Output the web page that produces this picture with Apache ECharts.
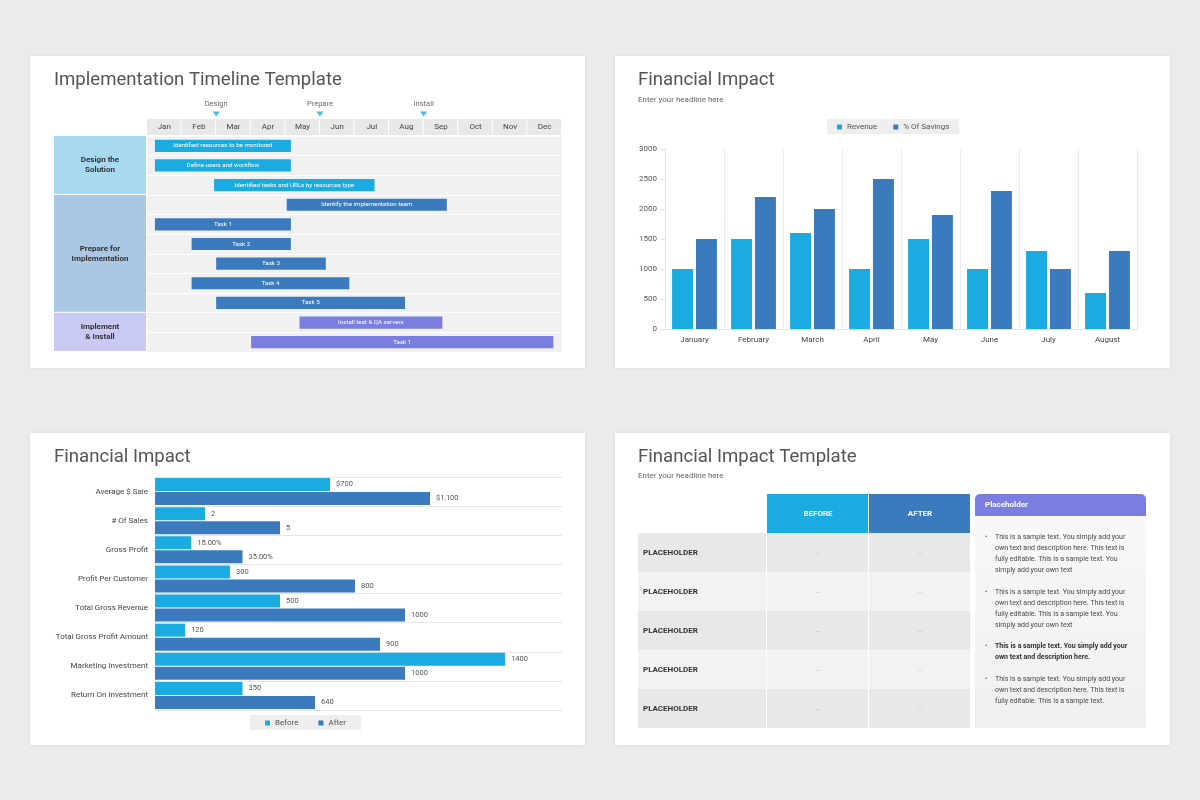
<!DOCTYPE html>
<html>
<head>
<meta charset="utf-8">
<title>Timeline and Financial Impact</title>
<script src="https://cdn.jsdelivr.net/npm/echarts@6/dist/echarts.min.js"></script>
<style>
html, body { margin: 0; padding: 0; background: #ebebeb; }
#main { width: 1200px; height: 800px; }
</style>
</head>
<body>
<div id="main"></div>
<script>
// ---- timeline (top left) ----
var months = ['Jan', 'Feb', 'Mar', 'Apr', 'May', 'Jun', 'Jul', 'Aug', 'Sep', 'Oct', 'Nov', 'Dec'];
var milestones = ['Design', 'Prepare', 'Install'];
var milestoneAt = [2, 5, 8];
var taskNames = [
	'Identified resources to be monitored',
	'Define users and workflow',
	'Identified tasks and URLs by resources type',
	'Identify the implementation team',
	'Task 1', 'Task 2', 'Task 3', 'Task 4', 'Task 5',
	'Install test & QA servers',
	'Task 1'
];
var taskStart = [0.23, 0.23, 1.94, 4.04, 0.23, 1.29, 2.0, 1.29, 2.0, 4.41, 3.01];
var taskEnd = [4.16, 4.16, 6.58, 8.67, 4.16, 4.16, 5.17, 5.85, 7.46, 8.54, 11.75];
var taskGroup = [0, 0, 0, 1, 1, 1, 1, 1, 1, 2, 2];
var groupNames = ['Design the\nSolution', 'Prepare for\nImplementation', 'Implement\n& Install'];
var groupFirst = [0, 3, 9];
var groupLast = [2, 8, 10];

// ---- financial impact (top right) ----
var finMonths = ['January', 'February', 'March', 'April', 'May', 'June', 'July', 'August'];
var revenue = [1000, 1500, 1600, 1000, 1500, 1000, 1300, 600];
var savings = [1500, 2200, 2000, 2500, 1900, 2300, 1000, 1300];

// ---- financial impact (bottom left) ----
var metrics = ['Average $ Sale', '# Of Sales', 'Gross Profit', 'Profit Per Customer',
	'Total Gross Revenue', 'Total Gross Profit Amount', 'Marketing Investment', 'Return On Investment'];
var beforeVals = [700, 200, 145, 300, 500, 120, 1400, 350];
var afterVals = [1100, 500, 350, 800, 1000, 900, 1000, 640];
var beforeLabels = ['$700', '2', '15.00%', '300', '500', '120', '1400', '350'];
var afterLabels = ['$1,100', '5', '35.00%', '800', '1000', '900', '1000', '640'];

// ---- table (bottom right) ----
var tableRows = ['PLACEHOLDER', 'PLACEHOLDER', 'PLACEHOLDER', 'PLACEHOLDER', 'PLACEHOLDER'];
var tableCols = ['BEFORE', 'AFTER'];
var tableCells = [['...', '...'], ['...', '...'], ['...', '...'], ['...', '...'], ['...', '...']];
var noteTitle = 'Placeholder';
var notes = [
	'This is a sample text. You simply add your\nown text and description here. This text is\nfully editable. This is a sample text. You\nsimply add your own text',
	'This is a sample text. You simply add your\nown text and description here. This text is\nfully editable. This is a sample text. You\nsimply add your own text',
	'This is a sample text. You simply add your\nown text and description here.',
	'This is a sample text. You simply add your\nown text and description here. This text is\nfully editable. This is a sample text.'
];
var noteBold = [false, false, true, false];

var C_LIGHT = '#1aabe0';
var C_DARK = '#3b7bbd';
var C_PURPLE = '#7a7ee0';
var groupColors = [C_LIGHT, C_DARK, C_PURPLE];
var groupBg = ['#a7d9f1', '#abc7e4', '#c9c9f5'];
var FONT = 'Roboto';

var myChart = echarts.init(document.getElementById('main'));

function render_task(params, api) { // 간트 막대
	var row = api.value(0);
	var s = api.coord([api.value(1), row]);
	var e = api.coord([api.value(2), row]);
	var h = api.size([0, 1])[1] * 0.62;
	var i = params.dataIndex;
	return {
		type: 'group',
		children: [
			{ type: 'rect', shape: { x: s[0], y: s[1] - h / 2, width: e[0] - s[0], height: h }, style: { fill: groupColors[taskGroup[i]] } },
			{ type: 'text', style: { text: taskNames[i], x: (s[0] + e[0]) / 2, y: s[1], align: 'center', verticalAlign: 'middle', fill: '#fff', fontSize: 6.2, fontFamily: FONT } }
		]
	};
}

function render_month(params, api) { // 상단 월 헤더
	var a = api.coord([api.value(0), 0]);
	var b = api.coord([api.value(1), 0]);
	var h = api.size([0, 1])[1];
	return {
		type: 'group',
		children: [
			{ type: 'rect', shape: { x: a[0], y: a[1] - h / 2, width: b[0] - a[0] - 1, height: h }, style: { fill: '#e8e8e8' } },
			{ type: 'text', style: { text: months[params.dataIndex], x: (a[0] + b[0]) / 2, y: a[1], align: 'center', verticalAlign: 'middle', fill: '#444', fontSize: 8, fontFamily: FONT } }
		]
	};
}

function render_group(params, api) { // 좌측 그룹 블록
	var a = api.coord([0, api.value(0)]);
	var b = api.coord([1, api.value(1)]);
	var h = api.size([0, 1])[1];
	var top = a[1] - h / 2, bottom = b[1] + h / 2;
	var i = params.dataIndex;
	return {
		type: 'group',
		children: [
			{ type: 'rect', shape: { x: a[0], y: top, width: b[0] - a[0], height: bottom - top - 1 }, style: { fill: groupBg[i] } },
			{ type: 'text', style: { text: groupNames[i], x: (a[0] + b[0]) / 2, y: (top + bottom) / 2, align: 'center', verticalAlign: 'middle', fill: '#333', fontSize: 8, fontWeight: 'bold', lineHeight: 10, fontFamily: FONT } }
		]
	};
}

// 표 셀 데이터
var cellData = [], cellText = [];
tableCols.forEach(function (c, ci) {
	cellData.push([ci, 0]);
	cellText.push(c);
});
tableCells.forEach(function (r, ri) {
	r.forEach(function (v, ci) {
		cellData.push([ci, ri + 1]);
		cellText.push(v);
	});
});
var headColors = [C_LIGHT, C_DARK];

function row_fill(row) {
	return row % 2 ? '#e8e8e8' : '#f2f2f2';
}

function render_cell(params, api) {
	var col = api.value(0), row = api.value(1);
	var c = api.coord([col, row]);
	var sz = api.size([1, 1]);
	var head = row === 0;
	return {
		type: 'group',
		children: [
			{ type: 'rect', shape: { x: c[0] - sz[0] / 2, y: c[1] - sz[1] / 2, width: sz[0] - 1, height: sz[1] }, style: { fill: head ? headColors[col] : row_fill(row) } },
			{ type: 'text', style: { text: cellText[params.dataIndex], x: c[0], y: c[1], align: 'center', verticalAlign: 'middle', fill: head ? '#fff' : '#999', fontSize: head ? 8 : 6, fontWeight: head ? 'bold' : 'normal', fontFamily: FONT } }
		]
	};
}

function render_rowname(params, api) {
	var row = api.value(1);
	var c = api.coord([0, row]);
	var sz = api.size([1, 1]);
	var x = c[0] - sz[0] / 2;
	return {
		type: 'group',
		children: [
			{ type: 'rect', shape: { x: x, y: c[1] - sz[1] / 2, width: sz[0] - 1, height: sz[1] }, style: { fill: row_fill(row) } },
			{ type: 'text', style: { text: tableRows[row - 1], x: x + 5, y: c[1], align: 'left', verticalAlign: 'middle', fill: '#333', fontSize: 8, fontWeight: 'bold', fontFamily: FONT } }
		]
	};
}

// 카드 / 노트 패널 graphic
var graphics = [];
[[30, 56], [615, 56], [30, 433], [615, 433]].forEach(function (p) {
	graphics.push({ type: 'rect', z: -10, shape: { x: p[0], y: p[1], width: 555, height: 312 }, style: { fill: '#fff', shadowBlur: 4, shadowColor: 'rgba(0,0,0,0.08)' } });
});
graphics.push({ type: 'rect', shape: { x: 975, y: 494, width: 171, height: 22, r: [5, 5, 0, 0] }, style: { fill: C_PURPLE } });
graphics.push({ type: 'text', style: { text: noteTitle, x: 985, y: 505, verticalAlign: 'middle', fill: '#fff', fontSize: 8, fontWeight: 'bold', fontFamily: FONT } });
graphics.push({ type: 'rect', shape: { x: 975, y: 516, width: 171, height: 212 }, style: { fill: new echarts.graphic.LinearGradient(0, 0, 0, 1, [{ offset: 0, color: '#f8f8f8' }, { offset: 1, color: '#f0f0f0' }]) } });
var noteY = [532, 587, 641, 674];
notes.forEach(function (t, i) {
	graphics.push({ type: 'text', z: 1, style: { text: '•', x: 985, y: noteY[i], fill: '#555', fontSize: 7, lineHeight: 11, fontFamily: FONT } });
	graphics.push({ type: 'text', z: 1, style: { text: t, x: 995, y: noteY[i], fill: noteBold[i] ? '#333' : '#4a4a4a', fontSize: 7, lineHeight: 11, fontWeight: noteBold[i] ? 'bold' : 'normal', fontFamily: FONT } });
});

function title_item(text, left, top, size, color) {
	return { text: text, left: left, top: top, padding: 0, textStyle: { fontSize: size, fontWeight: 'normal', color: color, fontFamily: FONT } };
}

var hidden = { show: false };

var option = {
	animation: false,
	textStyle: { fontFamily: FONT },
	graphic: graphics,
	title: [
		title_item('Implementation Timeline Template', 54, 71, 18.6, '#555'),
		title_item('Financial Impact', 638, 71, 18.6, '#555'),
		title_item('Enter your headline here', 638, 96, 8, '#666'),
		title_item('Financial Impact', 54, 448, 18.6, '#555'),
		title_item('Financial Impact Template', 638, 448, 18.6, '#555'),
		title_item('Enter your headline here', 638, 472, 8, '#666')
	],
	legend: [
		{
			data: ['Revenue', '% Of Savings'], left: 827, top: 119, backgroundColor: '#eeeeee', padding: [4, 10, 3, 10],
			itemWidth: 5, itemHeight: 5, itemGap: 16, icon: 'rect', textStyle: { fontSize: 8, color: '#555' }
		},
		{
			data: ['Before', 'After'], left: 250, top: 715, backgroundColor: '#eeeeee', padding: [4, 15, 3, 15],
			itemWidth: 5, itemHeight: 5, itemGap: 20, icon: 'rect', textStyle: { fontSize: 8, color: '#555' }
		}
	],
	grid: [
		{ left: 147, top: 98, width: 415, height: 20 },  // 0 마일스톤
		{ left: 147, top: 119, width: 415, height: 16 }, // 1 월 헤더
		{ left: 147, top: 136, width: 415, height: 216, show: true, backgroundColor: '#f1f1f1', borderWidth: 0 }, // 2 간트
		{ left: 54, top: 136, width: 92, height: 216 },   // 3 그룹
		{ left: 665, top: 149, width: 472, height: 180 }, // 4 막대
		{ left: 155, top: 477, width: 407, height: 233 }, // 5 가로 막대
		{ left: 638, top: 494, width: 129, height: 234 }, // 6 표 이름열
		{ left: 767, top: 494, width: 204, height: 234 }  // 7 표 값
	],
	xAxis: [
		{ gridIndex: 0, type: 'value', min: 0, max: 12, show: false },
		{ gridIndex: 1, type: 'value', min: 0, max: 12, show: false },
		{ gridIndex: 2, type: 'value', min: 0, max: 12, show: false },
		{ gridIndex: 3, type: 'value', min: 0, max: 1, show: false },
		{
			gridIndex: 4, type: 'category', data: finMonths,
			axisLine: { lineStyle: { color: '#e2e2e2' } }, axisTick: hidden,
			axisLabel: { fontSize: 8, color: '#444', margin: 7 },
			splitLine: { show: true, lineStyle: { color: '#ececec' } }
		},
		{ gridIndex: 5, type: 'value', min: 0, max: 1628, show: false },
		{ gridIndex: 6, type: 'category', data: ['name'], show: false },
		{ gridIndex: 7, type: 'category', data: tableCols, show: false }
	],
	yAxis: [
		{ gridIndex: 0, type: 'value', min: 0, max: 1, show: false },
		{ gridIndex: 1, type: 'category', data: ['m'], show: false },
		{
			gridIndex: 2, type: 'category', inverse: true, data: taskNames.map(function (n, i) { return i; }),
			axisLine: hidden, axisTick: hidden, axisLabel: hidden,
			splitLine: { show: true, lineStyle: { color: '#ffffff', width: 1 } }
		},
		{ gridIndex: 3, type: 'category', inverse: true, data: taskNames.map(function (n, i) { return i; }), show: false },
		{
			gridIndex: 4, type: 'value', min: 0, max: 3000, interval: 500,
			axisLine: { show: true, lineStyle: { color: '#e2e2e2' } },
			axisTick: { show: true, length: 4, lineStyle: { color: '#dddddd' } },
			axisLabel: { fontSize: 8, color: '#555', margin: 8, formatter: function (v) { return String(v); } },
			splitLine: hidden
		},
		{
			gridIndex: 5, type: 'category', inverse: true, data: metrics,
			axisLine: hidden, axisTick: hidden,
			axisLabel: { fontSize: 8, color: '#444', margin: 7 },
			splitLine: { show: true, lineStyle: { color: '#e6e6e6' } }
		},
		{ gridIndex: 6, type: 'category', inverse: true, data: ['head'].concat(tableRows.map(function (r, i) { return 'r' + i; })), show: false },
		{ gridIndex: 7, type: 'category', inverse: true, data: ['head'].concat(tableRows.map(function (r, i) { return 'r' + i; })), show: false }
	],
	series: [
		{
			type: 'scatter', xAxisIndex: 0, yAxisIndex: 0,
			data: milestoneAt.map(function (m) { return [m, 0.2]; }),
			symbol: 'triangle', symbolRotate: 180, symbolSize: [7, 5],
			itemStyle: { color: C_LIGHT },
			label: {
				show: true, position: 'top', distance: 3, fontSize: 7.5, color: '#444',
				formatter: function (p) { return milestones[p.dataIndex]; }
			}
		},
		{
			type: 'custom', xAxisIndex: 1, yAxisIndex: 1, renderItem: render_month,
			encode: { x: [0, 1], y: 2 },
			data: months.map(function (m, i) { return [i, i + 1, 0]; })
		},
		{
			type: 'custom', xAxisIndex: 2, yAxisIndex: 2, renderItem: render_task,
			encode: { x: [1, 2], y: 0 },
			data: taskNames.map(function (n, i) { return [i, taskStart[i], taskEnd[i]]; })
		},
		{
			type: 'custom', xAxisIndex: 3, yAxisIndex: 3, renderItem: render_group,
			encode: { y: [0, 1] },
			data: groupNames.map(function (g, i) { return [groupFirst[i], groupLast[i]]; })
		},
		{
			name: 'Revenue', type: 'bar', xAxisIndex: 4, yAxisIndex: 4, data: revenue,
			itemStyle: { color: C_LIGHT }, barGap: '14%', barCategoryGap: '24%'
		},
		{
			name: '% Of Savings', type: 'bar', xAxisIndex: 4, yAxisIndex: 4, data: savings,
			itemStyle: { color: C_DARK }, barGap: '14%', barCategoryGap: '24%'
		},
		{
			name: 'Before', type: 'bar', xAxisIndex: 5, yAxisIndex: 5, data: beforeVals,
			itemStyle: { color: C_LIGHT }, barWidth: 13, barGap: '8%',
			label: { show: true, position: 'right', distance: 6, fontSize: 7.5, color: '#555', formatter: function (p) { return beforeLabels[p.dataIndex]; } }
		},
		{
			name: 'After', type: 'bar', xAxisIndex: 5, yAxisIndex: 5, data: afterVals,
			itemStyle: { color: C_DARK }, barWidth: 13, barGap: '8%',
			label: { show: true, position: 'right', distance: 6, fontSize: 7.5, color: '#555', formatter: function (p) { return afterLabels[p.dataIndex]; } }
		},
		{
			type: 'custom', xAxisIndex: 6, yAxisIndex: 6, renderItem: render_rowname,
			encode: { x: 0, y: 1 },
			data: tableRows.map(function (r, i) { return [0, i + 1]; })
		},
		{
			type: 'custom', xAxisIndex: 7, yAxisIndex: 7, renderItem: render_cell,
			encode: { x: 0, y: 1 },
			data: cellData
		}
	]
};

myChart.setOption(option);
</script>
</body>
</html>
